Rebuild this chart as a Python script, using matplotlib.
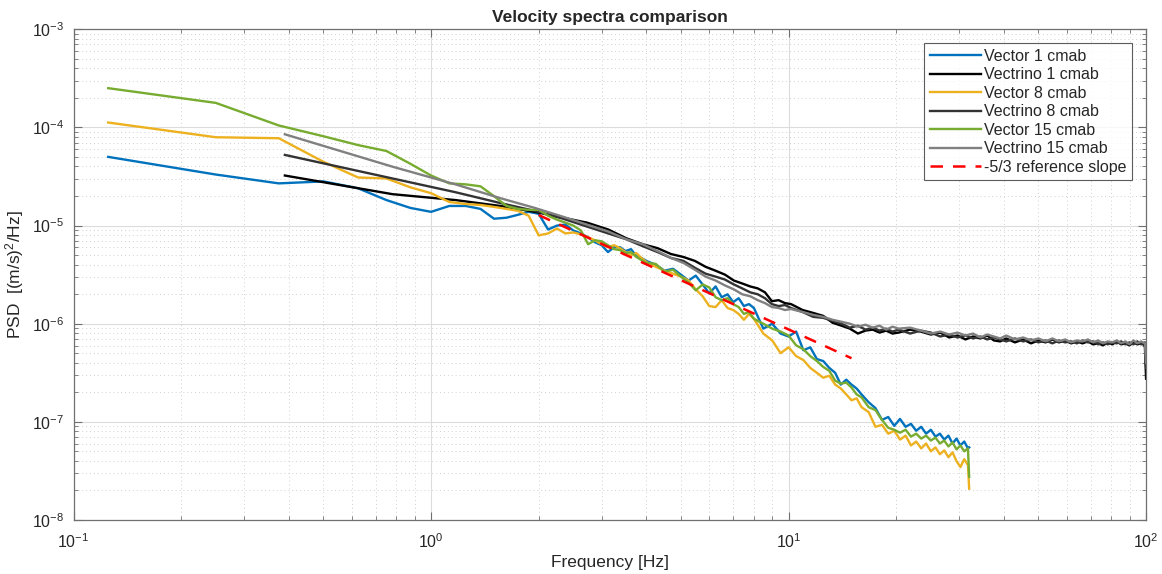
import numpy as np
import matplotlib
matplotlib.use("Agg")
import matplotlib.pyplot as plt

# ---------------- data (PSD given as log10 values) ----------------
f_vector = [0.125, 0.25, 0.375, 0.5, 0.625, 0.75, 0.875, 1.0, 1.125, 1.25, 1.375, 1.5, 1.625, 1.75, 1.875, 2.0,
            2.125, 2.25, 2.375, 2.5, 2.625, 2.75, 2.875, 3.0, 3.125, 3.25, 3.375, 3.5, 3.625, 3.75, 3.875, 4.0,
            4.25, 4.5, 4.75, 5.0, 5.25, 5.5, 5.75, 6.0, 6.25, 6.5, 6.75, 7.0, 7.25, 7.5, 7.75, 8.0,
            8.5, 9.0, 9.5, 10.0, 10.5, 11.0, 11.5, 12.0, 12.5, 13.0, 13.5, 14.0, 14.5, 15.0, 15.5, 16.0,
            16.75, 17.5, 18.25, 19.0, 19.75, 20.5, 21.25, 22.0, 22.75, 23.5, 24.25, 25.0, 25.75, 26.5,
            27.25, 28.0, 28.75, 29.5, 30.25, 31.0, 31.75, 32.0]

log_vector_1 = [-4.30, -4.48, -4.57, -4.55, -4.62, -4.74, -4.82, -4.86, -4.80, -4.80, -4.83, -4.93, -4.92, -4.89, -4.86, -4.88,
                -5.04, -5.00, -4.99, -5.05, -5.08, -5.12, -5.17, -5.20, -5.27, -5.22, -5.22, -5.26, -5.24, -5.31, -5.33, -5.36,
                -5.40, -5.46, -5.44, -5.50, -5.56, -5.51, -5.60, -5.69, -5.62, -5.73, -5.70, -5.78, -5.74, -5.82, -5.80, -5.84,
                -6.05, -6.00, -6.10, -6.13, -6.08, -6.27, -6.24, -6.36, -6.38, -6.45, -6.50, -6.62, -6.57, -6.62, -6.66, -6.72,
                -6.80, -6.86, -6.98, -6.95, -7.04, -6.97, -7.05, -7.02, -7.09, -7.05, -7.12, -7.08, -7.15, -7.12,
                -7.18, -7.14, -7.22, -7.17, -7.24, -7.20, -7.27, -7.26]

log_vector_8 = [-3.95, -4.10, -4.11, -4.35, -4.51, -4.52, -4.61, -4.67, -4.76, -4.78, -4.79, -4.81, -4.83, -4.85, -4.90, -5.10,
                -5.08, -5.03, -5.08, -5.07, -5.09, -5.12, -5.15, -5.19, -5.22, -5.20, -5.23, -5.27, -5.30, -5.28, -5.33, -5.37,
                -5.42, -5.46, -5.49, -5.52, -5.56, -5.65, -5.72, -5.82, -5.83, -5.76, -5.84, -5.86, -5.90, -5.96, -5.90, -5.95,
                -6.10, -6.17, -6.30, -6.24, -6.33, -6.37, -6.45, -6.50, -6.55, -6.53, -6.62, -6.66, -6.72, -6.78, -6.76, -6.85,
                -6.90, -7.05, -7.03, -7.12, -7.09, -7.18, -7.14, -7.24, -7.20, -7.27, -7.22, -7.30, -7.26, -7.33,
                -7.29, -7.36, -7.31, -7.40, -7.46, -7.38, -7.44, -7.68]

log_vector_15 = [-3.60, -3.75, -3.98, -4.09, -4.18, -4.24, -4.37, -4.49, -4.57, -4.58, -4.60, -4.70, -4.80, -4.83, -4.84, -4.84,
                 -4.90, -4.94, -4.97, -5.00, -5.05, -5.19, -5.15, -5.16, -5.20, -5.24, -5.25, -5.28, -5.27, -5.32, -5.35, -5.38,
                 -5.39, -5.47, -5.45, -5.52, -5.58, -5.66, -5.60, -5.63, -5.73, -5.76, -5.74, -5.80, -5.83, -5.90, -5.88, -5.95,
                 -6.00, -6.05, -6.08, -6.12, -6.22, -6.26, -6.33, -6.38, -6.44, -6.48, -6.58, -6.61, -6.60, -6.65, -6.72, -6.75,
                 -6.85, -6.88, -6.98, -7.06, -7.08, -7.11, -7.08, -7.15, -7.12, -7.17, -7.14, -7.19, -7.16, -7.22,
                 -7.19, -7.25, -7.21, -7.28, -7.24, -7.30, -7.27, -7.56]

f_vectrino = [0.39, 0.78, 1.17, 1.56, 1.95, 2.34, 2.73, 3.13, 3.52, 3.91, 4.30, 4.69, 5.08, 5.47, 5.86, 6.25,
              6.64, 7.03, 7.42, 7.81, 8.20, 8.59, 8.98, 9.38, 9.77, 10.16,
              10.94, 11.72, 12.50, 13.28, 14.06, 14.84, 15.63, 16.41, 17.19, 17.97, 18.75, 19.53, 20.31,
              21.88, 23.44, 25.00, 26.56, 28.13, 29.69, 31.25, 32.81, 34.38, 35.94, 37.50, 39.06, 40.63,
              42.97, 45.31, 47.66, 50.00, 52.34, 54.69, 57.03, 59.38, 61.72, 64.06, 66.41, 68.75, 71.09,
              73.44, 75.78, 78.13, 80.47, 82.81, 85.16, 87.50, 89.84, 92.19, 94.53, 96.88, 99.22, 100.0]

log_vectrino_1 = [-4.49, -4.68, -4.74, -4.80, -4.86, -4.92, -4.97, -5.04, -5.13, -5.19, -5.23, -5.29, -5.32, -5.36, -5.42, -5.46,
                  -5.50, -5.56, -5.59, -5.62, -5.64, -5.68, -5.77, -5.76, -5.79, -5.80,
                  -5.86, -5.89, -5.92, -5.99, -6.02, -6.05, -6.10, -6.07, -6.06, -6.09, -6.07, -6.10, -6.09,
                  -6.06, -6.08, -6.11, -6.09, -6.14, -6.12, -6.16, -6.13, -6.15, -6.12, -6.17, -6.18, -6.15,
                  -6.19, -6.16, -6.20, -6.17, -6.19, -6.16, -6.19, -6.17, -6.20, -6.18, -6.20, -6.18, -6.21,
                  -6.20, -6.22, -6.19, -6.21, -6.18, -6.21, -6.20, -6.22, -6.19, -6.21, -6.20, -6.22, -6.56]

log_vectrino_8 = [-4.28, -4.52, -4.66, -4.77, -4.85, -4.93, -5.01, -5.08, -5.14, -5.21, -5.27, -5.33, -5.36, -5.43, -5.49, -5.52,
                  -5.55, -5.60, -5.64, -5.68, -5.70, -5.74, -5.80, -5.82, -5.81, -5.84,
                  -5.88, -5.93, -5.94, -5.97, -6.00, -6.04, -6.02, -6.06, -6.04, -6.07, -6.05, -6.08, -6.06,
                  -6.10, -6.07, -6.09, -6.13, -6.11, -6.14, -6.12, -6.15, -6.13, -6.16, -6.14, -6.16, -6.18,
                  -6.15, -6.18, -6.16, -6.19, -6.17, -6.20, -6.17, -6.19, -6.18, -6.20, -6.17, -6.19, -6.18,
                  -6.21, -6.19, -6.21, -6.19, -6.20, -6.18, -6.21, -6.19, -6.21, -6.18, -6.21, -6.19, -6.45]

log_vectrino_15 = [-4.07, -4.40, -4.58, -4.72, -4.82, -4.91, -4.99, -5.06, -5.14, -5.19, -5.26, -5.33, -5.38, -5.45, -5.52, -5.56,
                   -5.61, -5.65, -5.70, -5.72, -5.76, -5.79, -5.83, -5.84, -5.86, -5.85,
                   -5.88, -5.91, -5.93, -5.96, -5.98, -6.00, -6.03, -6.01, -6.04, -6.02, -6.06, -6.03, -6.05,
                   -6.04, -6.07, -6.10, -6.08, -6.11, -6.09, -6.12, -6.10, -6.14, -6.11, -6.13, -6.15, -6.12,
                   -6.16, -6.14, -6.17, -6.15, -6.18, -6.15, -6.18, -6.16, -6.19, -6.17, -6.18, -6.16, -6.19,
                   -6.17, -6.20, -6.18, -6.19, -6.17, -6.20, -6.18, -6.21, -6.17, -6.20, -6.18, -6.20, -6.40]

ref_f = [2.0, 15.0]
ref_psd = [1.28e-5, 4.45e-7]

labels = ["Vector 1 cmab", "Vectrino 1 cmab", "Vector 8 cmab", "Vectrino 8 cmab",
          "Vector 15 cmab", "Vectrino 15 cmab", "-5/3 reference slope"]

# ---------------- plot ----------------
plt.rcParams['font.family'] = ['Liberation Sans', 'DejaVu Sans']
plt.rcParams['mathtext.default'] = 'regular'

fig = plt.figure(figsize=(11.62, 5.74), dpi=100)
ax = fig.add_axes([0.0633, 0.094, 0.923, 0.855])

series = [
    (f_vector, log_vector_1, '#0072BD'),
    (f_vectrino, log_vectrino_1, '#000000'),
    (f_vector, log_vector_8, '#EDB120'),
    (f_vectrino, log_vectrino_8, '#333333'),
    (f_vector, log_vector_15, '#77AC30'),
    (f_vectrino, log_vectrino_15, '#808080'),
]
for (fx, ly, c), lab in zip(series, labels):
    ax.loglog(fx, 10 ** np.array(ly), color=c, lw=1.7, label=lab)
ax.loglog(ref_f, ref_psd, color='#FF0000', lw=1.8, ls=(0, (5, 4)), label=labels[6])

ax.set_xlim(0.1, 100)
ax.set_ylim(1e-8, 1e-3)

ax.grid(True, which='major', color='#dcdcdc', lw=0.8, ls='-')
ax.grid(True, which='minor', color='#d0d0d0', lw=0.7, ls=(0, (1, 3)))
ax.set_axisbelow(True)

for s in ax.spines.values():
    s.set_color('#707070')
    s.set_linewidth(0.9)
ax.tick_params(which='both', direction='in', top=True, right=True, colors='#707070',
               labelcolor='#262626', labelsize=11.5)
ax.tick_params(axis='x', which='major', pad=9)
ax.tick_params(axis='y', which='major', pad=7)
ax.tick_params(which='major', length=6)
ax.tick_params(which='minor', length=3)
ax.xaxis.set_minor_formatter(matplotlib.ticker.NullFormatter())

ax.set_title("Velocity spectra comparison", fontsize=12.5, fontweight='bold', color='#262626', pad=5)
ax.set_xlabel("Frequency [Hz]", fontsize=12.5, color='#262626', labelpad=3)
ax.set_ylabel("PSD  [(m/s)$^2$/Hz]", fontsize=12.5, color='#262626', labelpad=4)

leg = ax.legend(loc='upper right', bbox_to_anchor=(0.987, 0.972), fontsize=11.5, frameon=True,
                fancybox=False, edgecolor='#333333', borderpad=0.35, labelspacing=0.22,
                handlelength=3.2, handletextpad=0.2, borderaxespad=0)
leg.get_frame().set_linewidth(0.8)
for t in leg.get_texts():
    t.set_color('#262626')

fig.savefig("out.png", dpi=100)
